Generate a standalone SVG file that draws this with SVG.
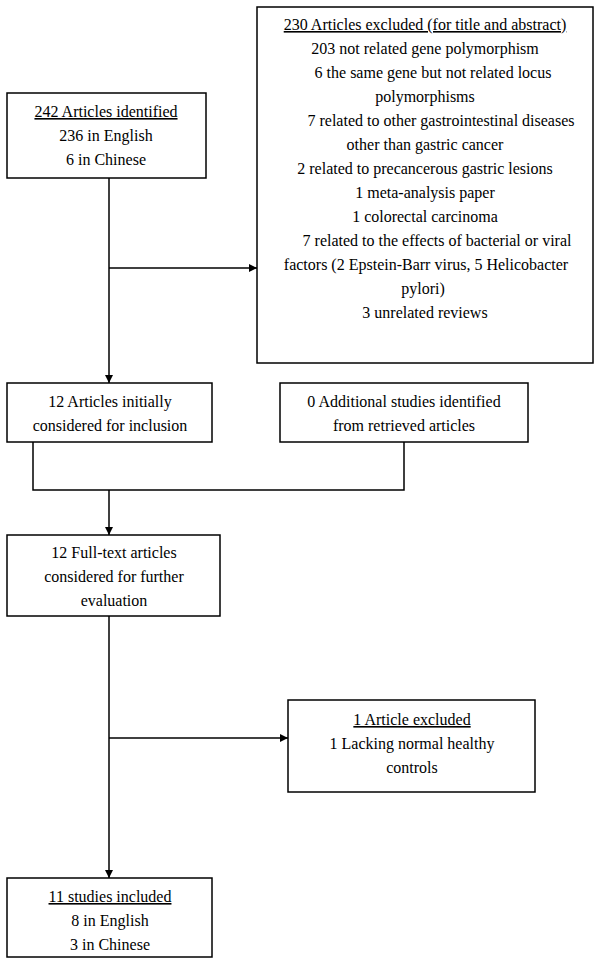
<svg xmlns="http://www.w3.org/2000/svg" width="600" height="966" viewBox="0 0 600 966">
<style>
.box{fill:#fff;stroke:#000;stroke-width:1.5}
.t{font-family:"Liberation Serif","Times New Roman",serif;font-size:16px;fill:#000;text-anchor:middle}
.u{text-decoration:underline}
.c{fill:none;stroke:#000;stroke-width:1.5}
</style>
<defs>
<marker id="ah" viewBox="0 0 10 10" refX="10" refY="5" markerWidth="8" markerHeight="8" markerUnits="userSpaceOnUse" orient="auto">
<path d="M0,0 L10,5 L0,10 z" fill="#000"/>
</marker>
</defs>
<rect width="600" height="966" fill="#fff"/>
<g id="connectors">
<line class="c" x1="109" y1="178" x2="109" y2="383" marker-end="url(#ah)"/>
<line class="c" x1="109" y1="268" x2="257" y2="268" marker-end="url(#ah)"/>
<polyline class="c" points="33,442 33,490 404,490 404,442"/>
<line class="c" x1="109" y1="490" x2="109" y2="535" marker-end="url(#ah)"/>
<line class="c" x1="109" y1="616" x2="109" y2="878" marker-end="url(#ah)"/>
<line class="c" x1="109" y1="738" x2="288" y2="738" marker-end="url(#ah)"/>
</g>
<g id="identified">
<rect class="box" x="7" y="93" width="199" height="85"/>
<text class="t u" x="106" y="117">242 Articles identified</text>
<text class="t" x="106" y="141">236 in English</text>
<text class="t" x="106" y="165">6 in Chinese</text>
</g>
<g id="excluded1">
<rect class="box" x="257" y="7" width="336" height="356"/>
<text class="t u" x="425" y="30">230 Articles excluded (for title and abstract)</text>
<text class="t" x="425" y="54">203 not related gene polymorphism</text>
<text class="t" x="433" y="78">6 the same gene but not related locus</text>
<text class="t" x="425" y="102">polymorphisms</text>
<text class="t" x="441" y="126">7 related to other gastrointestinal diseases</text>
<text class="t" x="425" y="150">other than gastric cancer</text>
<text class="t" x="425" y="174">2 related to precancerous gastric lesions</text>
<text class="t" x="425" y="198">1 meta-analysis paper</text>
<text class="t" x="425" y="222">1 colorectal carcinoma</text>
<text class="t" x="437" y="246">7 related to the effects of bacterial or viral</text>
<text class="t" x="426" y="270">factors (2 Epstein-Barr virus, 5 Helicobacter</text>
<text class="t" x="423" y="294">pylori)</text>
<text class="t" x="425" y="318">3 unrelated reviews</text>
</g>
<g id="initial">
<rect class="box" x="7" y="383" width="205" height="59"/>
<text class="t" x="110" y="407">12 Articles initially</text>
<text class="t" x="110" y="431">considered for inclusion</text>
</g>
<g id="additional">
<rect class="box" x="280" y="383" width="248" height="59"/>
<text class="t" x="404" y="407">0 Additional studies identified</text>
<text class="t" x="404" y="431">from retrieved articles</text>
</g>
<g id="fulltext">
<rect class="box" x="7" y="535" width="213" height="81"/>
<text class="t" x="114" y="558">12 Full-text articles</text>
<text class="t" x="114" y="582">considered for further</text>
<text class="t" x="114" y="606">evaluation</text>
</g>
<g id="excluded2">
<rect class="box" x="288" y="700" width="247" height="92"/>
<text class="t u" x="412" y="725">1 Article excluded</text>
<text class="t" x="412" y="749">1 Lacking normal healthy</text>
<text class="t" x="412" y="773">controls</text>
</g>
<g id="included">
<rect class="box" x="7" y="878" width="205" height="79"/>
<text class="t u" x="110" y="902">11 studies included</text>
<text class="t" x="110" y="926">8 in English</text>
<text class="t" x="110" y="950">3 in Chinese</text>
</g>
</svg>
